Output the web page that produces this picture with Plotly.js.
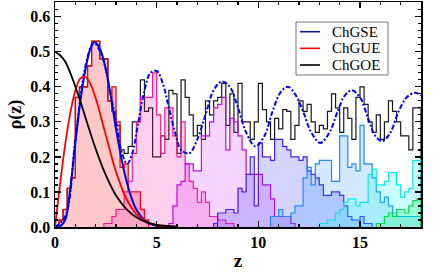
<!DOCTYPE html>
<html><head><meta charset="utf-8">
<script src="https://cdn.plot.ly/plotly-3.0.1.min.js"></script>
<style>html,body{margin:0;padding:0;background:#fff}#c{width:444px;height:277px}</style>
</head><body><div id="c"></div>
<script>
const BIN = 0.2;
// histogram bin start positions and heights
const blackStart = 0.0;
const blackVals = [0,0.02,0.05,0.11,0.14,0.37,0.40,0.40,0.46,0.53,0.53,0.48,0.48,0.36,0.33,0.29,0.22,0.21,0.23,0.30,
0.30,0.42,0.33,0.34,0.20,0.20,0.26,0.25,0.39,0.38,0.21,0.42,0.37,0.32,0.26,0.29,0.25,0.36,0.32,0.36,
0.37,0.41,0.29,0.38,0.27,0.41,0.30,0.30,0.25,0.30,0.41,0.335,0.30,0.25,0.31,0.28,0.335,0.33,0.25,0.29,
0.36,0.33,0.35,0.30,0.27,0.29,0.28,0.33,0.38,0.34,0.27,0.34,0.31,0.25,0.37,0.40,0.35,0.30,0.27,0.32,
0.25,0.30,0.36,0.33,0.30,0.26,0.26,0.22,0.34,0.34];
const redStart = 0.0;
const redVals = [0,0.02,0.05,0.11,0.14,0.37,0.40,0.40,0.46,0.53,0.53,0.48,0.48,0.36,0.40,0.30,0.17,0.18,0.10,0.10,0.10,0.05,0.02];
const pinkStart = 2.4;
const pinkVals = [0.01,0.01,0.03,0.05,0.05,0.10,0.13,0.21,0.30,0.37,0.37,0.37,0.44,0.32,0.21,0.34,0.34,0.26,0.20,0.30,
0.18,0.13,0.11,0.07,0.10,0.07,0.03,0.03,0.02,0.02,0.01,0.01];
const violetStart = 5.6;
const violetVals = [0.01,0.06,0.12,0.13,0.18,0.18,0.16,0.16,0.26,0.26,0.30,0.34,0.35,0.37,0.22,0.31,0.30,0.26,0.22,0.15,
0.15,0.15,0.15,0.12,0.12,0.08,0.03,0.03,0.03,0.03,0.01];
const blueStart = 7.8;
const blueVals = [0.01,0.04,0.04,0.05,0.05,0.04,0.11,0.10,0.15,0.20,0.06,0.24,0.20,0.20,0.19,0.25,0.25,0.23,0.22,0.20,
0.20,0.19,0.20,0.16,0.15,0.14,0.12,0.09,0.09,0.10,0.10,0.09,0.06,0.03,0.02,0.02,0.03,0.01,0.01];
const skyStart = 10.6;
const skyVals = [0.03,0.03,0.05,0.03,0.03,0.04,0.06,0.06,0.14,0.17,0.12,0.18,0.19,0.19,0.19,0.13,0.13,0.26,0.26,0.17,
0.18,0.16,0.29,0.18,0.18,0.14,0.10,0.07,0.085,0.06,0.04,0.03,0.03,0.03,0.03,0.03,0.03];
const cyanStart = 13.0;
const cyanVals = [0.01,0.01,0.02,0.02,0.04,0.05,0.07,0.08,0.08,0.06,0.07,0.07,0.15,0.165,0.12,0.12,0.13,0.155,0.155,0.12,
0.085,0.10,0.11,0.19,0.19];
const greenStart = 15.8;
const greenVals = [0.01,0.01,0.03,0.04,0.03,0.05,0.05,0.04,0.06,0.075,0.08];

// theory curves
const goeZ = [0,0.25,0.5,0.75,1,1.25,1.5,1.75,2,2.5,3,3.5,4,4.5,5,5.5,6];
const goeR = [0.5,0.49,0.472,0.44,0.401,0.358,0.312,0.267,0.223,0.148,0.09,0.052,0.028,0.014,0.006,0.003,0.001];
const gueZ = [0,0.25,0.5,0.75,1,1.25,1.5,1.75,2,2.5,3,3.5,4,4.5,5,5.5,6];
const gueR = [0,0.123,0.235,0.325,0.389,0.424,0.428,0.407,0.368,0.262,0.158,0.082,0.037,0.015,0.005,0.002,0];
const gseZ = [0,0.25,0.5,0.75,1,1.25,1.5,1.75,1.95,2.2,2.5,2.75,3,3.25,3.5,3.75,4,4.5,5,5.5];
const gseR = [0,0.002,0.02,0.11,0.24,0.36,0.45,0.51,0.527,0.51,0.45,0.37,0.28,0.2,0.135,0.085,0.05,0.014,0.003,0];
const denZ = [0,0.5,1,1.5,1.9,2.3,2.7,3,3.3,3.55,3.8,4.1,4.4,4.7,5,5.3,5.6,5.9,6.2,6.6,7,7.4,7.8,8.2,8.6,9,9.4,9.85,
10.3,10.7,11.1,11.45,11.8,12.2,12.6,13.05,13.5,13.9,14.25,14.6,15,15.4,15.75,16.1,16.5,16.9,17.3,17.7,18];
const denR = [0,0.03,0.25,0.46,0.525,0.49,0.39,0.30,0.21,0.18,0.21,0.30,0.39,0.44,0.445,0.41,0.34,0.27,0.22,0.21,0.25,0.32,0.39,0.415,0.40,0.34,0.27,0.23,
0.26,0.33,0.385,0.40,0.38,0.33,0.27,0.24,0.27,0.33,0.375,0.39,0.37,0.31,0.26,0.245,0.27,0.33,0.37,0.383,0.375];

// legend entries
const legendNames = ['ChGSE', 'ChGUE', 'ChGOE'];
const legendColors = ['rgb(20,20,150)', 'rgb(255,0,0)', 'rgb(0,0,0)'];

function step(start, vals, line, fill, w) {
  const x = [start], y = [0];
  vals.forEach((v, i) => { x.push(start + i * BIN); y.push(v); });
  x.push(start + vals.length * BIN); y.push(0);
  return {x, y, type: 'scatter', mode: 'lines', line: {shape: 'hv', color: line, width: w || 1.2},
    fill: fill ? 'tozeroy' : 'none', fillcolor: fill || 'rgba(0,0,0,0)', showlegend: false, hoverinfo: 'skip'};
}

const traces = [
  step(blackStart, blackVals, 'rgb(25,25,25)', null, 1.2),
  step(redStart, redVals, 'rgb(255,0,0)', 'rgba(255,30,30,0.24)', 1.3),
  step(pinkStart, pinkVals, 'rgb(255,20,150)', 'rgba(255,20,170,0.2)', 1.2),
  step(violetStart, violetVals, 'rgb(205,0,240)', 'rgba(205,40,255,0.2)', 1.2),
  step(blueStart, blueVals, 'rgb(70,30,240)', 'rgba(60,60,255,0.22)', 1.2),
  step(skyStart, skyVals, 'rgb(30,140,255)', 'rgba(30,144,255,0.2)', 1.2),
  step(cyanStart, cyanVals, 'rgb(0,235,235)', 'rgba(0,255,255,0.2)', 1.2),
  step(greenStart, greenVals, 'rgb(0,220,70)', 'rgba(0,255,90,0.22)', 1.2),
  {x: denZ, y: denR, type: 'scatter', mode: 'lines', line: {color: 'rgb(0,0,255)', width: 2, dash: '5px,2px,2px,2px', shape: 'spline'}, showlegend: false},
  {x: gseZ, y: gseR, type: 'scatter', mode: 'lines', name: 'ChGSE', showlegend: false, line: {color: 'rgb(0,0,235)', width: 2, shape: 'spline'}},
  {x: gueZ, y: gueR, type: 'scatter', mode: 'lines', name: 'ChGUE', showlegend: false, line: {color: 'rgb(255,0,0)', width: 1.8, shape: 'spline'}},
  {x: goeZ, y: goeR, type: 'scatter', mode: 'lines', name: 'ChGOE', showlegend: false, line: {color: 'rgb(0,0,0)', width: 1.8, shape: 'spline'}}
];

const SERIF = '"Liberation Serif", "Times New Roman", Times, serif';
const tf = {family: SERIF, size: 16, color: '#000', weight: 'bold'};

// hand-made legend box (paper coordinates)
const LX0 = 0.6585, LX1 = 0.9098, LY0 = 0.6756, LY1 = 0.9111;
const rowY = [0.868, 0.794, 0.72];
const shapes = [{type: 'rect', xref: 'paper', yref: 'paper', x0: LX0, x1: LX1, y0: LY0, y1: LY1,
  fillcolor: '#fff', line: {color: '#777', width: 1}, layer: 'above'}];
const annotations = [];
legendNames.forEach((n, i) => {
  shapes.push({type: 'line', xref: 'paper', yref: 'paper', x0: 0.6694, x1: 0.724, y0: rowY[i], y1: rowY[i],
    line: {color: legendColors[i], width: 1.6}, layer: 'above'});
  annotations.push({xref: 'paper', yref: 'paper', x: 0.752, y: rowY[i], xanchor: 'left', yanchor: 'middle',
    showarrow: false, text: n, font: {family: SERIF, size: 15, color: '#000'}});
});

const layout = {
  width: 444, height: 277,
  margin: {l: 55, r: 23, t: 2, b: 50},
  paper_bgcolor: '#fff', plot_bgcolor: '#fff',
  showlegend: false,
  shapes, annotations,
  xaxis: {range: [0, 18], dtick: 5, tick0: 0, ticks: 'inside', ticklen: 6, tickwidth: 1.2, tickcolor: '#000',
    showline: true, linecolor: '#000', linewidth: 1.5, mirror: 'ticks', showgrid: false, zeroline: false,
    tickfont: tf, minor: {dtick: 1, ticks: 'inside', ticklen: 3, tickcolor: '#000', showgrid: false},
    title: {text: 'z', font: {family: SERIF, size: 19, color: '#000', weight: 'bold'}, standoff: 4}},
  yaxis: {range: [0, 0.642], dtick: 0.1, tick0: 0, tickformat: '.1f', ticks: 'inside', ticklen: 6, tickwidth: 1.2, tickcolor: '#000',
    showline: true, linecolor: '#000', linewidth: 1.5, mirror: 'ticks', showgrid: false, zeroline: false,
    tickfont: tf, minor: {dtick: 0.02, ticks: 'inside', ticklen: 3, tickcolor: '#000', showgrid: false},
    title: {text: 'ρ(z)', font: {family: SERIF, size: 18, color: '#000', weight: 'bold'}, standoff: 4}}
};
Plotly.newPlot('c', traces, layout, {staticPlot: true, displayModeBar: false});
</script></body></html>
